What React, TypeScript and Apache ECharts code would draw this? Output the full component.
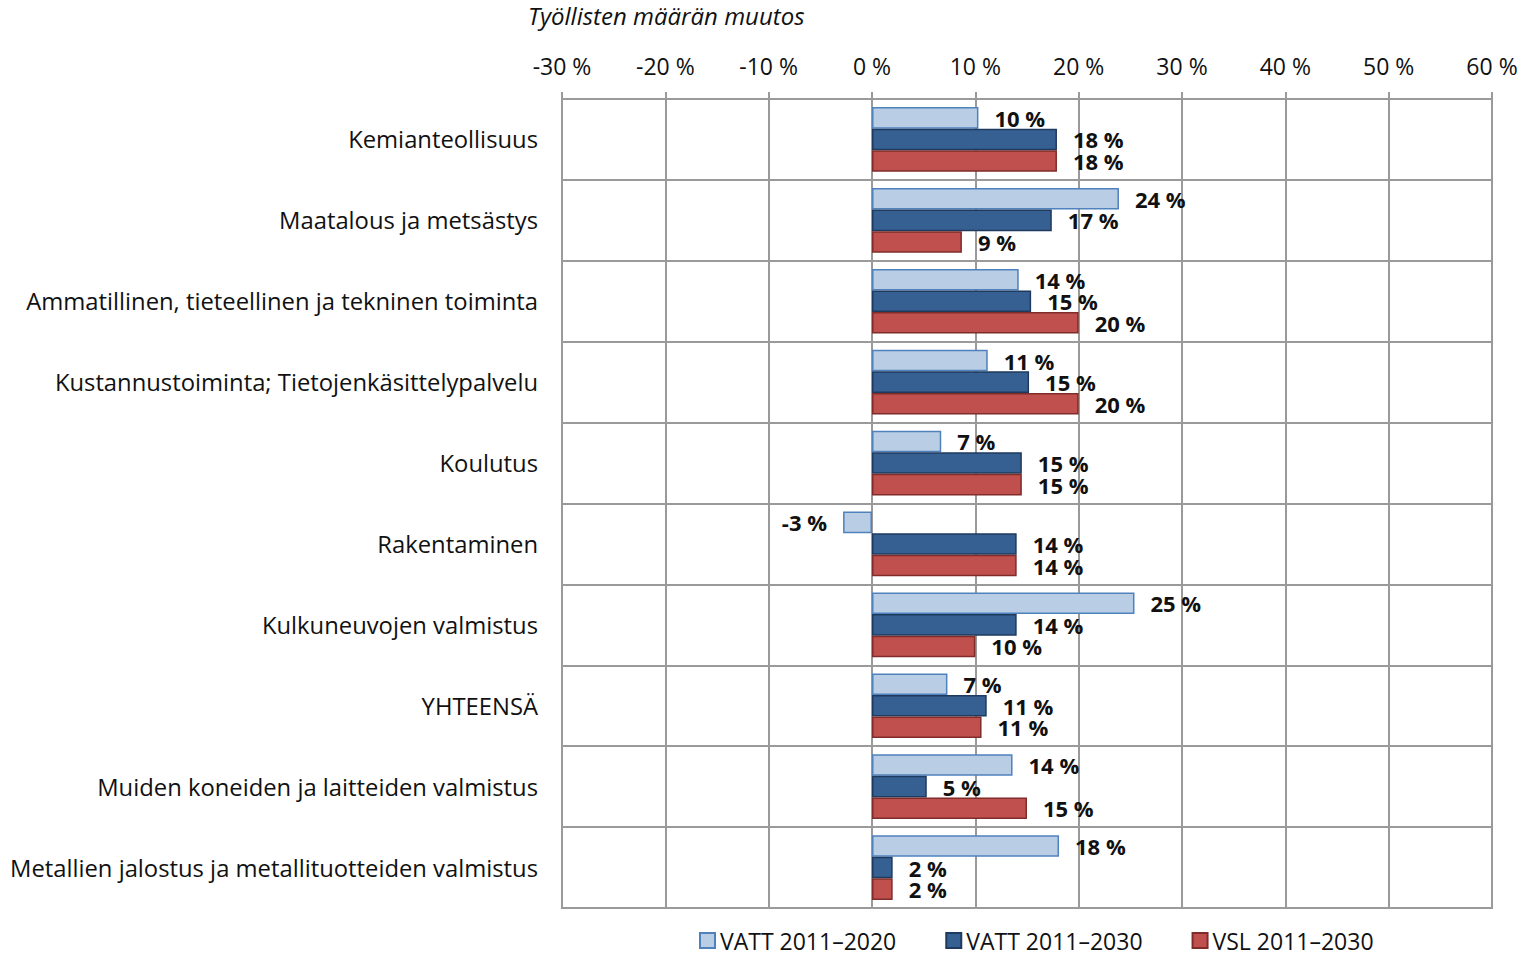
import React, { useEffect, useRef } from "react";
import * as echarts from "echarts";

const categories = [
  "Kemianteollisuus",
  "Maatalous ja metsästys",
  "Ammatillinen, tieteellinen ja tekninen toiminta",
  "Kustannustoiminta; Tietojenkäsittelypalvelu",
  "Koulutus",
  "Rakentaminen",
  "Kulkuneuvojen valmistus",
  "YHTEENSÄ",
  "Muiden koneiden ja laitteiden valmistus",
  "Metallien jalostus ja metallituotteiden valmistus",
];

const seriesNames = ["VATT 2011–2020", "VATT 2011–2030", "VSL 2011–2030"];
const vatt2020 = [10.3, 23.9, 14.2, 11.2, 6.7, -2.8, 25.4, 7.3, 13.6, 18.1];
const vatt2030 = [17.9, 17.4, 15.4, 15.2, 14.5, 14.0, 14.0, 11.1, 5.3, 2.0];
const vsl2030 = [17.9, 8.7, 20.0, 20.0, 14.5, 14.0, 10.0, 10.6, 15.0, 2.0];

const xTicks = { min: -30, max: 60, interval: 10 };
const axisTitle = "Työllisten määrän muutos";

const FONT = "'Open Sans', 'Noto Sans', sans-serif";

export default function App() {
  const ref = useRef<HTMLDivElement>(null);
  useEffect(() => {
    if (!ref.current) return;
    const chart = echarts.init(ref.current, undefined, { renderer: "svg" });
    const styles = [
      { fill: "#B9CDE5", border: "#4F81BD" },
      { fill: "#376092", border: "#1F3A5F" },
      { fill: "#C0504D", border: "#7F2C2A" },
    ];
    const datasets = [vatt2020, vatt2030, vsl2030];
    chart.setOption({
      animation: false,
      grid: {
        left: 562,
        right: 37,
        top: 99,
        bottom: 48,
        show: true,
        borderColor: "#9A9A9A",
        borderWidth: 2,
      },
      legend: {
        top: 929,
        left: 699,
        padding: 0,
        itemWidth: 15,
        itemHeight: 15,
        itemGap: 49,
        icon: "rect",
        textStyle: { fontFamily: FONT, fontSize: 23, color: "#111" },
        data: seriesNames,
      },
      xAxis: {
        type: "value",
        position: "top",
        min: xTicks.min,
        max: xTicks.max,
        interval: xTicks.interval,
        axisLine: { show: true, lineStyle: { color: "#9A9A9A", width: 2 } },
        axisTick: { show: true, length: 7, lineStyle: { color: "#9A9A9A", width: 2 } },
        splitLine: { show: true, lineStyle: { color: "#9A9A9A", width: 2 } },
        axisLabel: {
          fontFamily: FONT,
          fontSize: 23,
          color: "#111",
          margin: 22,
          formatter: (v: number) => `${v} %`,
        },
      },
      yAxis: {
        type: "category",
        inverse: true,
        data: categories,
        axisLine: { show: true, lineStyle: { color: "#9A9A9A", width: 2 } },
        axisTick: { show: true, length: 6, lineStyle: { color: "#9A9A9A", width: 2 } },
        splitLine: { show: true, lineStyle: { color: "#9A9A9A", width: 2 } },
        axisLabel: { fontFamily: FONT, fontSize: 23.8, color: "#111", margin: 24 },
      },
      graphic: [
        {
          type: "text",
          left: 528,
          top: 3,
          style: {
            text: axisTitle,
            fontFamily: FONT,
            fontSize: 24,
            fontStyle: "italic",
            fill: "#111",
          },
        },
      ],
      series: datasets.map((vals, i) => ({
        name: seriesNames[i],
        type: "bar",
        barGap: "0%",
        barCategoryGap: "20%",
        itemStyle: { color: styles[i].fill, borderColor: styles[i].border, borderWidth: 1.5 },
        data: vals.map((v) => ({
          value: v,
          label: { position: v < 0 ? "left" : "right" },
        })),
        label: {
          show: true,
          distance: 16,
          fontFamily: FONT,
          fontSize: 22,
          fontWeight: "bold",
          color: "#111",
          formatter: (p: any) => `${Math.round(p.value)} %`,
        },
      })),
    });
    return () => chart.dispose();
  }, []);
  return (
    <div
      ref={ref}
      style={{ position: "fixed", left: 0, top: 0, width: 1529, height: 956, background: "#fff" }}
    />
  );
}
